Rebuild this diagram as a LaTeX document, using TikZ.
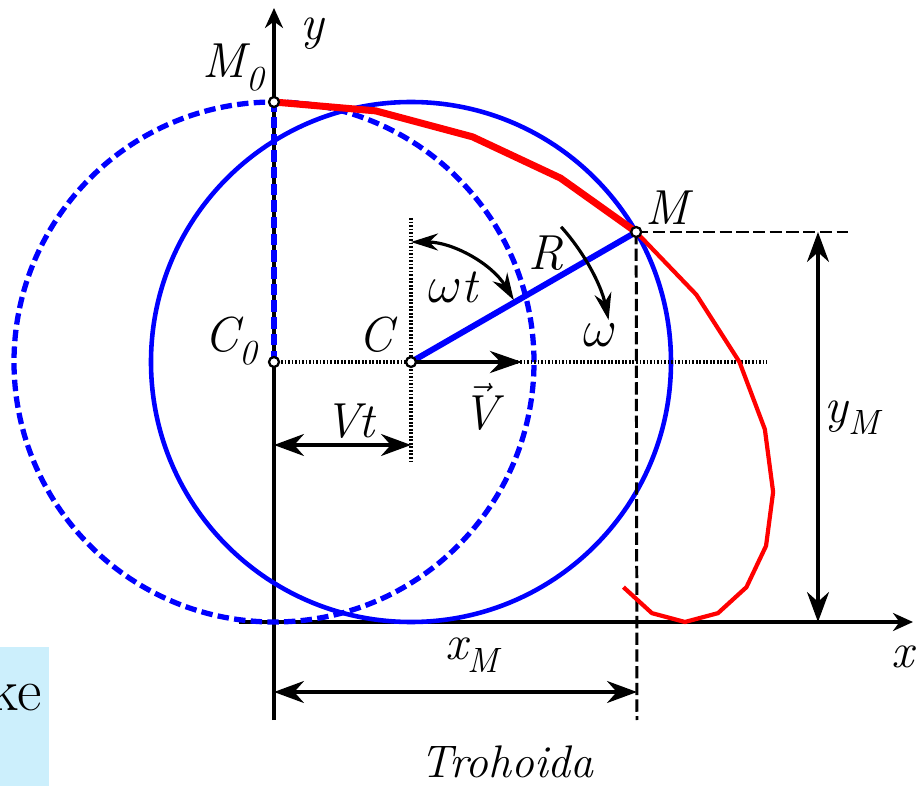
\documentclass[tikz,border=0pt]{standalone}
\usepackage{fontspec}
\usetikzlibrary{arrows.meta, calc}

\newcommand\lowsub[1]{\raisebox{-7pt}{\fontsize{20}{20}\selectfont #1}}
\newcommand\omg{\scalebox{1.2}{$\omega$}}

\tikzset{
  axisline/.style={line width=1.8pt, -{Stealth[length=4mm, width=3.6mm]}},
  dimline/.style={line width=1.8pt, {Stealth[length=6mm, width=4.4mm]}-{Stealth[length=6mm, width=4.4mm]}},
  turnline/.style={line width=1.8pt},
  guide/.style={line width=1.8pt, dash pattern=on 1pt off 1pt},
  dashguide/.style={line width=1.7pt, dash pattern=on 7pt off 2.5pt},
  rim/.style={blue, line width=2.6pt},
  rimdashed/.style={blue, line width=3pt, dash pattern=on 6.5pt off 3pt},
  joint/.style={circle, draw, fill=white, line width=1.3pt, inner sep=0pt, minimum size=2mm},
  lbl/.style={inner sep=0pt, font=\fontsize{28}{30}\selectfont\itshape}
}

\begin{document}
\begin{tikzpicture}[x=0.2mm, y=0.2mm]
\useasboundingbox (-274,-164) rectangle (642,622);

% points
\coordinate (O) at (0,0);
\coordinate (C0) at (0,260);
\coordinate (M0) at (0,520);
\coordinate (C) at (137,260);
\coordinate (M) at ($(C)+(30:260)$);

% slide fragment
\fill[cyan!20] (-274,-164) rectangle (-225,-25);
\node[anchor=base east, inner sep=0pt, font=\fontsize{34}{36}\selectfont] (frag) at (-232,-88) {ke};

% axes
\coordinate (xend) at (639,0);
\coordinate (xstart) at (-35,0);
\coordinate (yend) at (0,614);
\coordinate (ystart) at (0,-98);
\draw[axisline] (xstart) -- (xend);
\draw[axisline] (ystart) -- (yend);
\node[lbl] (xlab) at (629,-35) {x};
\node[lbl] (ylab) at (38,588) {y};

% circles
\draw[rimdashed] (C0) circle[radius=260];
\draw[rimdashed] (C0) -- (M0);
\draw[rim] (C) circle[radius=260];

% guides
\coordinate (Ctop) at (137,404);
\coordinate (Cbot) at (137,160);
\coordinate (hend) at (493,260);
\coordinate (Mfoot) at (363,-98);
\coordinate (Mside) at (574,390);
\draw[guide] (Ctop) -- (Cbot);
\draw[guide] (C0) -- (hend);
\draw[dashguide] (M) -- (Mfoot);
\draw[dashguide] (M) -- (Mside);

% trochoid
\draw[red, line width=4pt, line join=round]
  plot[domain=0:60, samples=5] ({2.283*\x+260*sin(\x)}, {260+260*cos(\x)});
\draw[red, line width=2.4pt, line join=round]
  plot[domain=60:210, samples=11] ({2.283*\x+260*sin(\x)}, {260+260*cos(\x)});

% radius
\draw[blue, line width=3.4pt] (C) -- (M);

% velocity
\coordinate (Vtip) at (248,260);
\draw[line width=2.6pt, -{Stealth[length=6.4mm, width=4.4mm]}] (C) -- (Vtip);

% angle and spin
\draw[turnline, {Stealth[length=5.4mm, width=3.4mm]}-{Stealth[length=5.4mm, width=3.4mm]}]
  ($(C)+(90:120)$) arc[start angle=90, end angle=31, radius=120];
\draw[turnline, -{Stealth[length=5.4mm, width=3.4mm]}]
  ($(C)+(42:202)$) arc[start angle=42, end angle=12, radius=202];

% dimensions
\draw[dimline] (0,177) -- (137,177);
\draw[dimline] (0,-70) -- (363,-70);
\draw[dimline] (544,390) -- (544,0);

% labels
\node[lbl, anchor=base east] (lblM0) at (-10,544) {M\lowsub{0}};
\node[lbl, anchor=base east] (lblC0) at (-17,270) {C\lowsub{0}};
\node[lbl, anchor=base east] (lblC) at (119,270) {C};
\node[lbl, anchor=base west] (lblM) at (371,397) {M};
\node[lbl] (lblR) at (272,369) {R};
\node[lbl, anchor=base] (lblwt) at (179,319) {\omg t};
\node[lbl, anchor=base] (lblw) at (326,275) {\omg};
\node[lbl] (lblV) at (206,215) {$\vec{\mbox{V}}$};
\node[lbl, anchor=base] (lblVt) at (75,184) {Vt};
\node[lbl] (lblyM) at (578,204) {y\lowsub{M}};
\node[lbl] (lblxM) at (198,-33) {x\lowsub{M}};
\node[lbl, anchor=base, font=\fontsize{26}{30}\selectfont\itshape] (title) at (233,-155) {Trohoida};

% markers
\node[joint] at (M0) {};
\node[joint] at (C0) {};
\node[joint] at (C) {};
\node[joint] at (M) {};
\end{tikzpicture}
\end{document}
